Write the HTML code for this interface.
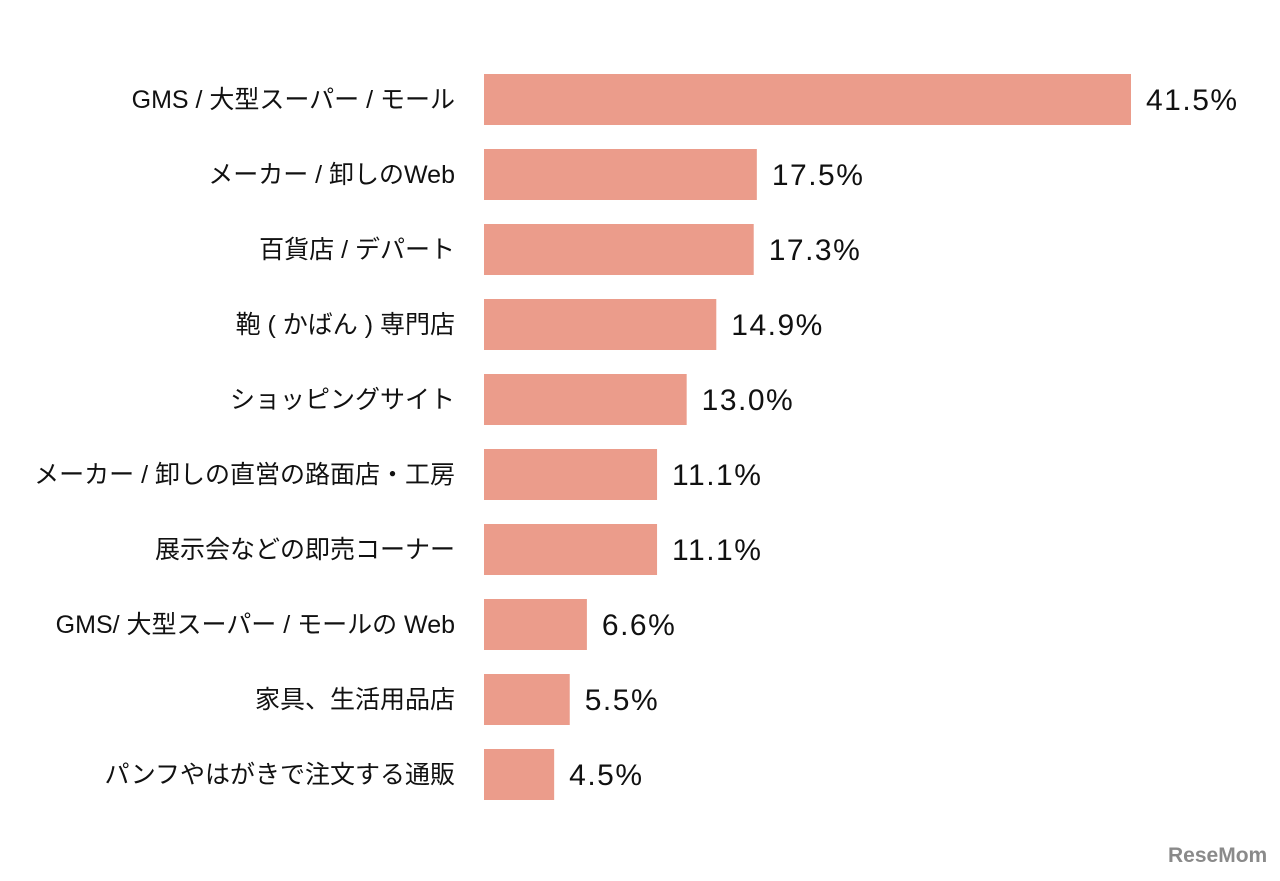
<!DOCTYPE html>
<html><head><meta charset="utf-8"><style>
body{margin:0;background:#fff;width:1280px;height:876px;overflow:hidden;font-family:"Liberation Sans","Noto Sans CJK JP",sans-serif;}
</style></head><body>
<svg id="chart" width="1280" height="876" xmlns="http://www.w3.org/2000/svg"></svg>
<script>
const categories=["GMS / 大型スーパー / モール","メーカー / 卸しのWeb","百貨店 / デパート","鞄 ( かばん ) 専門店","ショッピングサイト","メーカー / 卸しの直営の路面店・工房","展示会などの即売コーナー","GMS/ 大型スーパー / モールの Web","家具、生活用品店","パンフやはがきで注文する通販"];
const values=[41.5,17.5,17.3,14.9,13.0,11.1,11.1,6.6,5.5,4.5];
const valueLabels=["41.5%","17.5%","17.3%","14.9%","13.0%","11.1%","11.1%","6.6%","5.5%","4.5%"];
const svg=document.getElementById('chart');
const NS="http://www.w3.org/2000/svg";
const x0=484, pxPer=647/41.5;
function xScale(v){return x0+v*pxPer;}
function yScale(i){return 99+i*75;}
categories.forEach((c,i)=>{
  const y=yScale(i);
  const r=document.createElementNS(NS,'rect');
  r.setAttribute('x',x0);r.setAttribute('y',y-25);
  r.setAttribute('width',xScale(values[i])-x0);r.setAttribute('height',51);
  r.setAttribute('fill','#EB9C8B');
  
  
  svg.appendChild(r);
  const t=document.createElementNS(NS,'text');
  t.setAttribute('x',455);t.setAttribute('y',y+9);t.setAttribute('text-anchor','end');
  t.setAttribute('font-size','25');t.setAttribute('fill','#111');
  t.textContent=c;
  
  
  svg.appendChild(t);
  const v=document.createElementNS(NS,'text');
  v.setAttribute('x',xScale(values[i])+15);v.setAttribute('y',y+11);
  v.setAttribute('font-size','30');v.setAttribute('letter-spacing','1.5');v.setAttribute('fill','#111');
  v.textContent=valueLabels[i];
  
  
  svg.appendChild(v);
});
const logo=document.createElementNS(NS,'text');
logo.setAttribute('x',1168);logo.setAttribute('y',862);
logo.setAttribute('font-size','21');logo.setAttribute('font-weight','bold');logo.setAttribute('fill','#8a8a8a');
logo.textContent='ReseMom';


svg.appendChild(logo);
</script>
</body></html>
